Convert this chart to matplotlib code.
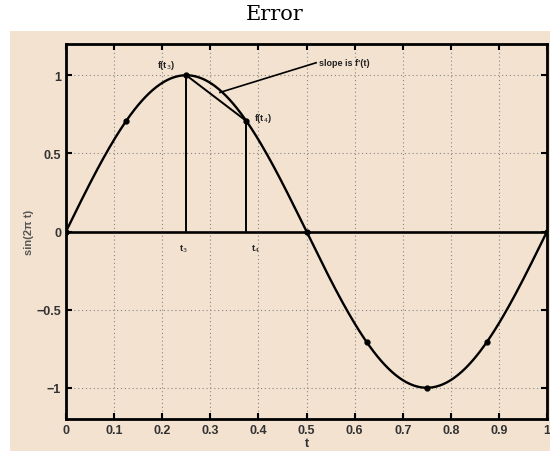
import numpy as np
import matplotlib
matplotlib.use("Agg")
import matplotlib.pyplot as plt

# data
t_curve = np.linspace(0, 1, 401)
t_pts = [0, 0.125, 0.25, 0.375, 0.5, 0.625, 0.75, 0.875, 1.0]
x_ticks = [0, 0.1, 0.2, 0.3, 0.4, 0.5, 0.6, 0.7, 0.8, 0.9, 1]
x_ticklabels = ["0", "0.1", "0.2", "0.3", "0.4", "0.5", "0.6", "0.7", "0.8", "0.9", "1"]
y_ticks = [-1, -0.5, 0, 0.5, 1]
y_ticklabels = ["\u22121", "\u22120.5", "0", "0.5", "1"]
t3, t4 = 0.25, 0.375

bg = "#f3e2cf"
fig = plt.figure(figsize=(5.5, 4.52), dpi=100, facecolor="white")
# beige panel
fig.patches.append(plt.Rectangle((10/550, 0), 540/550, 1 - 32/452, transform=fig.transFigure,
                                 facecolor=bg, edgecolor="none", zorder=-5))
fig.text(0.5, 1 - 14/452, "Error", ha="center", va="center", fontsize=15,
         family="DejaVu Serif")

ax = fig.add_axes([66/550, 1 - 420/452, 481/550, 375/452])
ax.set_zorder(2)
ax.set_facecolor(bg)
ax.plot(t_curve, np.sin(2*np.pi*t_curve), color="black", lw=1.7)
ax.plot(t_pts, np.sin(2*np.pi*np.array(t_pts)), "o", color="black", ms=3.5)
ax.axhline(0, color="black", lw=1.9)
ax.plot([t3, t3], [0, np.sin(2*np.pi*t3)], color="black", lw=1.4)
ax.plot([t4, t4], [0, np.sin(2*np.pi*t4)], color="black", lw=1.4)
ax.plot([t3, t4], [np.sin(2*np.pi*t3), np.sin(2*np.pi*t4)], color="black", lw=1.4)
ax.plot([0.32, 0.52], [0.89, 1.08], color="black", lw=1.2)

txt = dict(fontsize=6.5, color="#222222", family="Liberation Sans", fontweight="bold")
ax.text(0.525, 1.08, "slope is f'(t)", ha="left", va="center", **txt)
ax.text(0.19, 1.07, "f(t$_3$)", ha="left", va="center", **txt)
ax.text(0.39, 0.73, "f(t$_4$)", ha="left", va="center", **txt)
ax.text(0.235, -0.11, "t$_3$", ha="left", va="center", **txt)
ax.text(0.385, -0.11, "t$_4$", ha="left", va="center", **txt)

ax.set_xlim(0, 1)
ax.set_ylim(-1.2, 1.2)
ax.set_xticks(x_ticks)
ax.set_xticklabels(x_ticklabels)
ax.set_yticks(y_ticks)
ax.set_yticklabels(y_ticklabels)
ax.grid(True, linestyle=(0, (1, 2.5)), color="#888888", lw=0.8)
for s in ax.spines.values():
    s.set_linewidth(2.0)
ax.tick_params(direction="in", length=4, width=1.5, top=True, right=True,
               labelsize=9, labelcolor="#333333")
for lab in ax.get_xticklabels() + ax.get_yticklabels():
    lab.set_fontweight("bold")
    lab.set_family("Liberation Sans")
ax.set_xlabel("t", fontsize=9, fontweight="bold", color="#333333", labelpad=1,
              family="Liberation Sans")
ax.set_ylabel("sin(2\u03c0 t)", fontsize=8, fontweight="bold", color="#555555", labelpad=2,
              family="Liberation Sans")

fig.savefig("out.png", dpi=100, facecolor="white")
